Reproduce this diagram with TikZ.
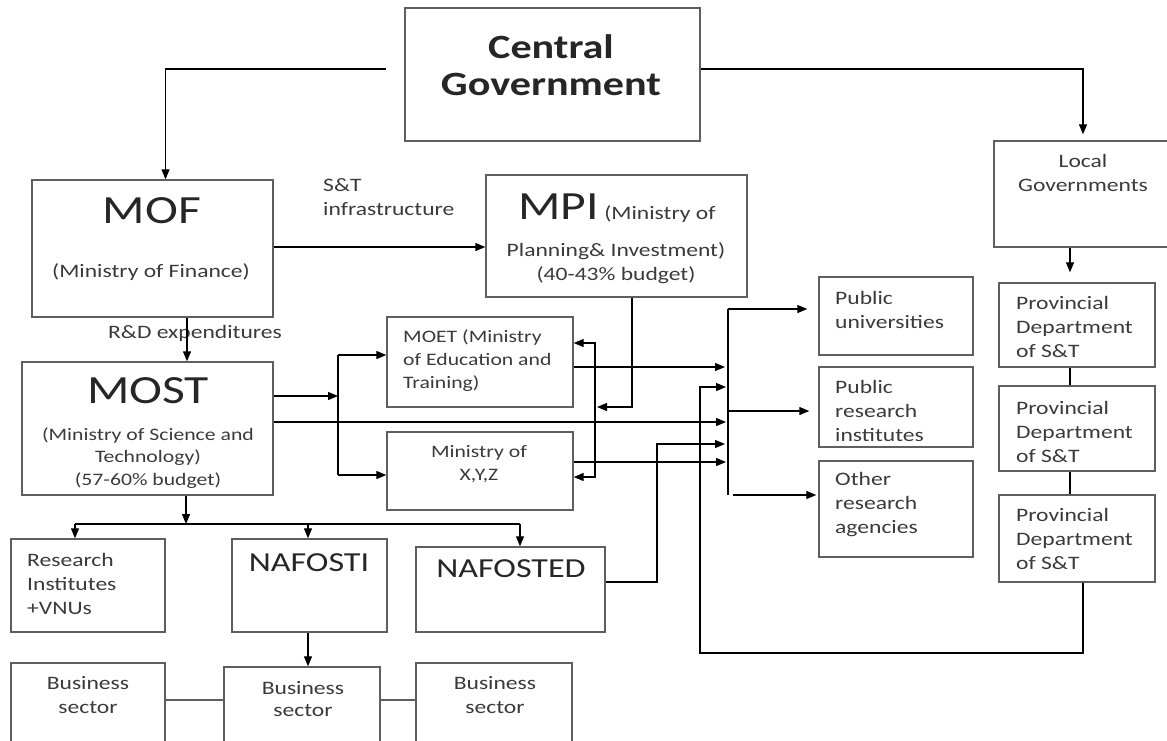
\documentclass[tikz,border=0pt]{standalone}
\usepackage{fontspec}
\setmainfont[FakeStretch=1.24]{Carlito}
\usepackage{xcolor}
\usepackage{tikz}
\usetikzlibrary{arrows.meta,positioning,calc,fit}
\definecolor{boxgray}{RGB}{95,95,95}
\definecolor{txtgray}{RGB}{58,58,58}

\begin{document}
\begin{tikzpicture}[x=1pt,y=-1pt,>={Triangle[length=10pt,width=8pt]},
  bx/.style={draw=boxgray,line width=1.4pt,inner sep=0pt,fit={#1}},
  tx/.style={text=txtgray,inner sep=0pt,align=left,font=\fontsize{19}{24}\selectfont},
  sm/.style={tx,font=\fontsize{17.5}{23}\selectfont},
  big/.style={tx,text=black!85,font=\fontsize{40}{40}\selectfont},
  arr/.style={->,line width=1.2pt},
  ln/.style={line width=1.2pt}]
\path[use as bounding box] (0,0) rectangle (1167,740);
\clip (0,0) rectangle (1167,740);
\node[bx={(405,8) (700,141)}] (cg) {};
\node[bx={(32,180) (273,317)}] (mof) {};
\node[bx={(486,175) (747,297)}] (mpi) {};
\node[bx={(994,141) (1180,247)}] (loc) {};
\node[bx={(22,362) (273,495)}] (most) {};
\node[bx={(387,317) (573,407)}] (moet) {};
\node[bx={(387,432) (573,510)}] (xyz) {};
\node[bx={(819,277) (973,355)}] (pu) {};
\node[bx={(819,367) (973,447)}] (pri) {};
\node[bx={(819,461) (973,557)}] (ora) {};
\node[bx={(999,283) (1155,367)}] (pd1) {};
\node[bx={(999,386) (1155,471)}] (pd2) {};
\node[bx={(999,495) (1155,582)}] (pd3) {};
\node[bx={(11,539) (165,632)}] (ri) {};
\node[bx={(232,539) (387,632)}] (nti) {};
\node[bx={(416,547) (605,632)}] (ntd) {};
\node[bx={(11,663) (165,770)}] (bs1) {};
\node[bx={(224,667) (380,770)}] (bs2) {};
\node[bx={(416,663) (572,770)}] (bs3) {};
\node[tx,align=center,text=black!85,font=\fontsize{34}{37}\selectfont\bfseries] (cgt) at (551,65) {Central\\Government};
\node[big] (moft) at (152,211) {MOF};
\node[tx] (mofs) at (151,272) {(Ministry of Finance)};
\node[tx,anchor=base] (mpit) at (617,219) {{\fontsize{40}{40}\selectfont\color{black!85}MPI} (Ministry of};
\node[tx,align=center] (mpis) at (616,263) {Planning\& Investment)\\(40-43\% budget)};
\node[tx,anchor=west] (sti) at (323,197) {S\&T\\infrastructure};
\node[tx] (rdx) at (195,333) {R\&D expenditures};
\node[big] (mostt) at (148,391) {MOST};
\node[tx,align=center,font=\fontsize{17.5}{22.5}\selectfont] (mosts) at (148,458) {(Ministry of Science and\\Technology)\\(57-60\% budget)};
\node[sm,anchor=west] (moett) at (403,361) {MOET (Ministry\\of Education and\\Training)};
\node[sm,align=center] (xyzt) at (479,464) {Ministry of\\X,Y,Z};
\node[tx,align=center] (loct) at (1083,173) {Local\\Governments};
\node[tx,anchor=west] (put) at (835,310) {Public\\universities};
\node[tx,anchor=west] (prit) at (835,411) {Public\\research\\institutes};
\node[tx,anchor=west] (orat) at (835,505) {Other\\research\\agencies};
\node[tx,anchor=west] (pd1t) at (1016,327) {Provincial\\Department\\of S\&T};
\node[tx,anchor=west] (pd2t) at (1016,432) {Provincial\\Department\\of S\&T};
\node[tx,anchor=west] (pd3t) at (1016,539) {Provincial\\Department\\of S\&T};
\node[tx,anchor=west] (rit) at (27,584) {Research\\Institutes\\+VNUs};
\node[big,font=\fontsize{27.5}{30}\selectfont] (ntit) at (309,563) {NAFOSTI};
\node[big,font=\fontsize{27.5}{30}\selectfont] (ntdt) at (511,569) {NAFOSTED};
\node[tx,align=center] (bs1t) at (88,695) {Business\\sector};
\node[tx,align=center,font=\fontsize{19}{22}\selectfont] (bs2t) at (303,699) {Business\\sector};
\node[tx,align=center] (bs3t) at (495,695) {Business\\sector};
\coordinate (cgl) at (386,69);
\coordinate (fk) at (338,396);
\coordinate (bt) at (728,309);
\coordinate (bb) at (728,495);
\coordinate (nf) at (657,444);
\coordinate (pf) at (700,653);
\coordinate (mj) at (595,407);
\coordinate (pl) at (1070,0);
\coordinate (cl) at (75,524);
\coordinate (cr) at (520,524);
\coordinate (bl) at (0,700);
\draw[arr] (cgl) -| ([xshift=13pt]mof.north);
\draw[arr,shorten >=6pt] (cg.east |- cgl) -| ([xshift=-4pt]loc.north);
\draw[arr] (mof.east |- 0,247) -- (mpi.west |- 0,247);
\draw[arr] (mof.south -| 187,0) -- (most.north -| 187,0);
\draw[arr] (most.east |- fk) -- (fk);
\draw[ln] (fk |- 0,355) -- (fk |- 0,475);
\draw[arr] (fk |- 0,355) -- (moet.west |- 0,355);
\draw[arr] (fk |- 0,475) -- (xyz.west |- 0,475);
\draw[arr,shorten >=2pt] (mpi.south -| 632,0) |- (mj);
\draw[arr] (mj) |- (moet.east |- 0,343);
\draw[arr] (mj) |- (xyz.east |- 0,477);
\draw[ln] (bt) -- (bb);
\draw[arr,shorten >=11pt] (bt) -- (pu.west |- bt);
\draw[arr,shorten >=9pt] (bt |- 0,411) -- (pri.west |- 0,411);
\draw[arr,shorten >=2pt] ([xshift=5pt]bb) -- (ora.west |- bb);
\draw[arr,shorten >=3pt] (moet.east |- 0,367) -- (bt |- 0,367);
\draw[arr,shorten >=2pt] (most.east |- 0,422) -- (bt |- 0,422);
\draw[arr,shorten >=2pt] (xyz.east |- 0,462) -- (bt |- 0,462);
\draw[arr,shorten >=3pt] (ntd.east |- 0,582) -| (nf) -- (nf -| bt);
\draw[arr,shorten >=2pt] (pd3.south -| 1083,0) |- (pf) |- (bt |- 0,387);
\draw[arr,shorten >=10pt] (loc.south -| pl) -- (pd1.north -| pl);
\draw[ln] (pd1.south -| pl) -- (pd2.north -| pl);
\draw[ln] (pd2.south -| pl) -- (pd3.north -| pl);
\draw[arr] (most.south -| 186,0) -- (cl -| 186,0);
\draw[ln] (cl) -- (cr);
\draw[arr] (cl) -- (cl |- ri.north);
\draw[arr] (cl -| 308,0) -- (nti.north -| 308,0);
\draw[arr] (cr) -- (cr |- ntd.north);
\draw[arr] (nti.south -| 308,0) -- (bs2.north -| 308,0);
\draw[ln,boxgray] (bs1.east |- bl) -- (bs2.west |- bl);
\draw[ln,boxgray] (bs2.east |- bl) -- (bs3.west |- bl);
\end{tikzpicture}
\end{document}
